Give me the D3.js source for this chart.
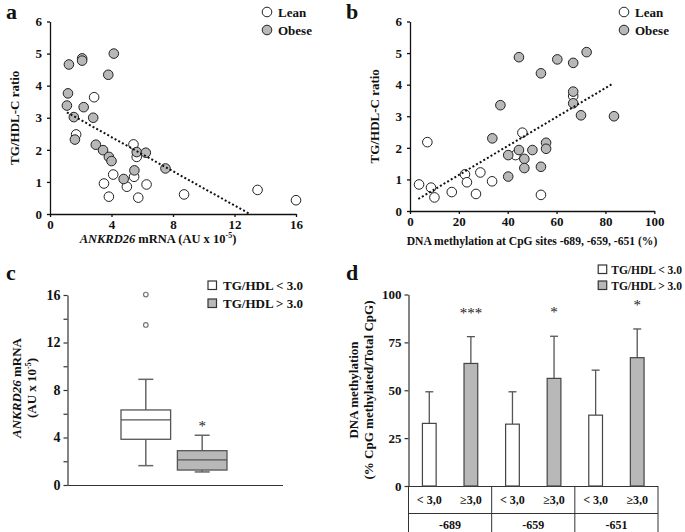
<!DOCTYPE html>
<html><head><meta charset="utf-8">
<script src="https://cdn.jsdelivr.net/npm/d3@7"></script>
<style>
body{margin:0;background:#fff}
svg{display:block}
text{font-family:"Liberation Serif","Times New Roman",serif;font-weight:bold;fill:#111}
</style></head><body>
<svg id="fig" width="685" height="532"></svg>
<script>
// ---- Panel a: ANKRD26 mRNA vs TG/HDL-C ----
const aLeanX = [2.87,1.70,5.43,5.64,4.11,3.51,5.00,5.47,6.28,3.83,5.74,8.72,13.5,16.0];
const aLeanY = [3.64,2.48,2.17,1.78,1.23,0.95,0.85,1.16,0.92,0.54,0.51,0.61,0.75,0.43];
const aObeseX = [1.23,2.09,2.09,4.15,3.79,1.17,1.10,2.19,1.55,2.81,1.62,2.98,3.45,3.83,4.00,5.64,6.23,5.49,4.79,7.51];
const aObeseY = [4.66,4.85,4.78,5.00,4.34,3.76,3.38,3.33,3.02,3.00,2.32,2.16,1.99,1.78,1.65,1.93,1.91,1.36,1.09,1.42];
const aTrendX = [1.1, 13.0];
const aTrendY = [3.17, 0];
const aXTicks = [0,4,8,12,16];
const yTicksRatio = [0,1,2,3,4,5,6];

// ---- Panel b: DNA methylation vs TG/HDL-C ----
const bLeanX = [3.7,7.1,8.6,10.0,17.1,22.5,23.3,27.0,28.8,33.6,43.2,46.0,66.8,53.6];
const bLeanY = [0.84,2.18,0.74,0.43,0.60,1.16,0.91,0.54,1.22,0.94,1.77,2.48,3.64,0.51];
const bObeseX = [33.7,37.0,44.6,40.2,40.2,44.6,46.8,46.8,50.1,53.6,60.3,66.8,72.3,66.8,66.8,70.0,83.5,55.7,55.7,53.6];
const bObeseY = [2.30,3.35,4.87,1.77,1.09,1.93,1.65,1.36,1.93,4.36,4.80,4.69,5.03,3.78,3.41,3.03,3.00,2.16,1.97,1.40];
const bTrendX = [3.4, 83.2];
const bTrendY = [0.38, 4.04];
const bXTicks = [0,20,40,60,80,100];

// ---- Panel c: box plots ----
const cGroups = ["TG/HDL < 3.0","TG/HDL > 3.0"];
const cWhiskerLow = [1.63,1.10];
const cQ1 = [3.85,1.26];
const cMedian = [5.48,2.11];
const cQ3 = [6.32,2.89];
const cWhiskerHigh = [8.9,4.19];
const cOutliers = [[13.48,16.04],[]];
const cYTicks = [0,4,8,12,16];

// ---- Panel d: bars ----
const dSites = ["-689","-659","-651"];
const dSubLabels = ["< 3,0","\u22653,0"];
const dLow = [32.7,32.3,37.0];
const dHigh = [64.0,56.2,67.0];
const dLowErrTop = [49.2,49.2,60.5];
const dHighErrTop = [78.0,78.2,82.0];
const dStars = ["***","*","*"];
const dYTicks = [0,25,50,75,100];

const svg = d3.select("#fig");
const GREY = "#b8b8b8";

function panelLabel(t,x,y){
  svg.append("text").attr("x",x).attr("y",y).attr("font-size",22).text(t);
}
panelLabel("a",6,19);
panelLabel("b",346,19);
panelLabel("c",6,280);
panelLabel("d",346,280);

function styleAxis(a,fs){
  a.selectAll("path,line").attr("stroke","#111").attr("stroke-width",1.3);
  a.selectAll("text").attr("font-size",fs).attr("font-family","Liberation Serif").attr("font-weight","bold").attr("fill","#111");
}

function scatterPanel(opt){
  const g = svg.append("g");
  const x = d3.scaleLinear().domain(opt.xDomain).range(opt.xRange);
  const y = d3.scaleLinear().domain([0,6]).range(opt.yRange);
  const xa = g.append("g").attr("transform",`translate(0,${opt.yRange[0]})`)
    .call(d3.axisBottom(x).tickValues(opt.xTicks).tickFormat(d3.format("d")).tickSize(3).tickPadding(3).tickSizeOuter(0));
  const ya = g.append("g").attr("transform",`translate(${opt.xRange[0]},0)`)
    .call(d3.axisLeft(y).tickValues(yTicksRatio).tickFormat(d3.format("d")).tickSize(3).tickPadding(5).tickSizeOuter(0));
  styleAxis(xa,13); styleAxis(ya,13);
  const lean = opt.leanX.map((v,i)=>[v,opt.leanY[i]]);
  const obese = opt.obeseX.map((v,i)=>[v,opt.obeseY[i]]);
  g.selectAll(".l").data(lean).enter().append("circle")
    .attr("cx",d=>x(d[0])).attr("cy",d=>y(d[1])).attr("r",4.8)
    .attr("fill","#fff").attr("stroke","#222").attr("stroke-width",1);
  g.selectAll(".o").data(obese).enter().append("circle")
    .attr("cx",d=>x(d[0])).attr("cy",d=>y(d[1])).attr("r",4.8)
    .attr("fill",GREY).attr("stroke","#222").attr("stroke-width",1);
  g.append("line")
    .attr("x1",x(opt.trendX[0])).attr("y1",y(opt.trendY[0]))
    .attr("x2",x(opt.trendX[1])).attr("y2",y(opt.trendY[1]))
    .attr("stroke","#111").attr("stroke-width",2).attr("stroke-dasharray","2,2.2");
  g.append("text").attr("transform",`translate(${opt.yLabX},${(opt.yRange[0]+opt.yRange[1])/2}) rotate(-90)`)
    .attr("text-anchor","middle").attr("font-size",13).text("TG/HDL-C ratio");
  const lg = g.append("g");
  [["Lean","#fff"],["Obese",GREY]].forEach((d,i)=>{
    lg.append("circle").attr("cx",opt.legX).attr("cy",opt.legY+i*18).attr("r",4.8)
      .attr("fill",d[1]).attr("stroke","#222");
    lg.append("text").attr("x",opt.legX+11).attr("y",opt.legY+i*18+4.5).attr("font-size",13).text(d[0]);
  });
  return g;
}

const ga = scatterPanel({xDomain:[0,16],xRange:[50,296],yRange:[214,21.5],xTicks:aXTicks,
  leanX:aLeanX,leanY:aLeanY,obeseX:aObeseX,obeseY:aObeseY,trendX:aTrendX,trendY:aTrendY,
  yLabX:19,legX:267,legY:12});
const axt = ga.append("text").attr("x",158).attr("y",243).attr("text-anchor","middle").attr("font-size",12.5);
axt.append("tspan").attr("font-style","italic").text("ANKRD26");
axt.append("tspan").text("  mRNA  (AU x 10");
axt.append("tspan").attr("font-size",8).attr("dy",-5).text("-5");
axt.append("tspan").attr("dy",5).text(")");

const gb = scatterPanel({xDomain:[0,100],xRange:[410,654.3],yRange:[211,21.5],xTicks:bXTicks,
  leanX:bLeanX,leanY:bLeanY,obeseX:bObeseX,obeseY:bObeseY,trendX:bTrendX,trendY:bTrendY,
  yLabX:379,legX:624,legY:12});
gb.append("text").attr("x",532).attr("y",245).attr("text-anchor","middle").attr("font-size",11.6)
  .text("DNA methylation at CpG sites -689, -659, -651 (%)");

// ---- Panel c ----
(function(){
  const g = svg.append("g");
  const y = d3.scaleLinear().domain([0,16]).range([485,295]);
  const x = d3.scaleBand().domain(cGroups).range([121,227]).paddingInner(0.12).paddingOuter(0);
  const ya = g.append("g").attr("transform","translate(67.5,0)")
    .call(d3.axisLeft(y).tickValues(d3.range(0,17,2)).tickSize(4).tickSizeOuter(0)
      .tickFormat(d=>cYTicks.includes(d)?d:""));
  styleAxis(ya,14);
  ya.selectAll("path,line").attr("stroke","#333").attr("stroke-width",1.2);
  g.append("line").attr("x1",67.5).attr("x2",283).attr("y1",485.5).attr("y2",485.5).attr("stroke","#333").attr("stroke-width",1.2);
  cGroups.forEach((gname,i)=>{
    const x0 = x(gname), bw = x.bandwidth(), cx = x0+bw/2;
    const fill = i===0?"#fff":GREY;
    g.append("line").attr("x1",cx).attr("x2",cx).attr("y1",y(cWhiskerHigh[i])).attr("y2",y(cQ3[i])).attr("stroke","#666").attr("stroke-width",1.5);
    g.append("line").attr("x1",cx).attr("x2",cx).attr("y1",y(cQ1[i])).attr("y2",y(cWhiskerLow[i])).attr("stroke","#666").attr("stroke-width",1.5);
    [cWhiskerHigh[i],cWhiskerLow[i]].forEach(v=>{
      g.append("line").attr("x1",cx-7.5).attr("x2",cx+7.5).attr("y1",y(v)).attr("y2",y(v)).attr("stroke","#666").attr("stroke-width",1.5);
    });
    g.append("rect").attr("x",x0).attr("width",bw).attr("y",y(cQ3[i])).attr("height",y(cQ1[i])-y(cQ3[i]))
      .attr("fill",fill).attr("stroke","#555").attr("stroke-width",1.3);
    g.append("line").attr("x1",x0).attr("x2",x0+bw).attr("y1",y(cMedian[i])).attr("y2",y(cMedian[i])).attr("stroke","#555").attr("stroke-width",1.3);
    cOutliers[i].forEach(v=>{
      g.append("circle").attr("cx",cx).attr("cy",y(v)).attr("r",2.3).attr("fill","#fff").attr("stroke","#777").attr("stroke-width",1.2);
    });
    if(i===1) g.append("text").attr("x",cx).attr("y",y(cWhiskerHigh[i])-4).attr("text-anchor","middle").attr("font-size",15)
      .style("font-weight","normal").style("fill","#222").text("*");
  });
  const yl = g.append("text").attr("transform","translate(21,388) rotate(-90)").attr("text-anchor","middle").attr("font-size",13);
  yl.append("tspan").attr("font-style","italic").text("ANKRD26");
  yl.append("tspan").text("  mRNA");
  const yl2 = g.append("text").attr("transform","translate(36,388) rotate(-90)").attr("text-anchor","middle").attr("font-size",13);
  yl2.append("tspan").text("(AU x 10");
  yl2.append("tspan").attr("font-size",8).attr("dy",-5).text("-5");
  yl2.append("tspan").attr("dy",5).text(")");
  cGroups.forEach((t,i)=>{
    g.append("rect").attr("x",208).attr("y",281+i*18).attr("width",8.5).attr("height",8.5)
      .attr("fill",i===0?"#fff":GREY).attr("stroke","#333").attr("stroke-width",1.2);
    g.append("text").attr("x",223).attr("y",289.5+i*18).attr("font-size",13).text(t);
  });
})();

// ---- Panel d ----
(function(){
  const g = svg.append("g");
  const y = d3.scaleLinear().domain([0,100]).range([486,294.5]);
  const x0 = d3.scaleBand().domain(dSites).range([408.5,658]);
  const x1 = d3.scalePoint().domain([0,1]).range([0,x0.bandwidth()]).padding(0.5);
  const bw = x0.bandwidth()*0.165;
  const ya = g.append("g").attr("transform","translate(408.5,0)")
    .call(d3.axisLeft(y).tickValues(dYTicks).tickSize(4).tickSizeOuter(0));
  styleAxis(ya,13);
  ya.selectAll("path,line").attr("stroke","#333").attr("stroke-width",1.2);
  g.append("line").attr("x1",408.5).attr("x2",658).attr("y1",486.5).attr("y2",486.5).attr("stroke","#333").attr("stroke-width",1.2);
  g.append("line").attr("x1",408.5).attr("x2",658).attr("y1",513.5).attr("y2",513.5).attr("stroke","#333").attr("stroke-width",1);
  const edges = dSites.map(s=>x0(s)).concat([x0.range()[1]]);
  edges.forEach(xx=>{
    g.append("line").attr("x1",xx).attr("x2",xx).attr("y1",486).attr("y2",532).attr("stroke","#333").attr("stroke-width",1);
  });
  dSites.forEach((s,i)=>{
    const vals=[dLow[i],dHigh[i]], errs=[dLowErrTop[i],dHighErrTop[i]];
    [0,1].forEach(k=>{
      const cx = x0(s)+x1(k), bx = cx-bw/2;
      g.append("line").attr("x1",cx).attr("x2",cx).attr("y1",y(vals[k])).attr("y2",y(errs[k])).attr("stroke","#555").attr("stroke-width",1.3);
      g.append("line").attr("x1",cx-4).attr("x2",cx+4).attr("y1",y(errs[k])).attr("y2",y(errs[k])).attr("stroke","#555").attr("stroke-width",1.3);
      g.append("rect").attr("x",bx).attr("width",bw).attr("y",y(vals[k])).attr("height",y(0)-y(vals[k]))
        .attr("fill",k===0?"#fff":GREY).attr("stroke","#444").attr("stroke-width",1.2);
      g.append("text").attr("x",cx).attr("y",504).attr("text-anchor","middle").attr("font-size",12).text(dSubLabels[k]);
      if(k===1) g.append("text").attr("x",cx).attr("y",y(errs[k])-19).attr("text-anchor","middle").attr("font-size",15)
        .style("font-weight","normal").style("fill","#222").text(dStars[i]);
    });
    g.append("text").attr("x",x0(s)+x0.bandwidth()/2).attr("y",529).attr("text-anchor","middle").attr("font-size",12).text(s);
  });
  g.append("text").attr("transform","translate(358,390) rotate(-90)").attr("text-anchor","middle").attr("font-size",13).text("DNA methylation");
  g.append("text").attr("transform","translate(373,390) rotate(-90)").attr("text-anchor","middle").attr("font-size",13).text("(% CpG methylated/Total CpG)");
  // legend: right-aligned so that its text ends inside the picture
  const legTexts = ["TG/HDL < 3.0","TG/HDL > 3.0"];
  const tmp = g.append("text").attr("font-size",11.5).text(legTexts[0]);
  const tw = tmp.node().getComputedTextLength(); tmp.remove();
  const tx = Math.min(620, 682 - tw);
  legTexts.forEach((t,i)=>{
    g.append("rect").attr("x",tx-13).attr("y",265+i*16).attr("width",8.5).attr("height",8.5)
      .attr("fill",i===0?"#fff":GREY).attr("stroke","#333").attr("stroke-width",1.2);
    g.append("text").attr("x",tx).attr("y",273.5+i*16).attr("font-size",11.5).text(t);
  });
})();
</script></body></html>
